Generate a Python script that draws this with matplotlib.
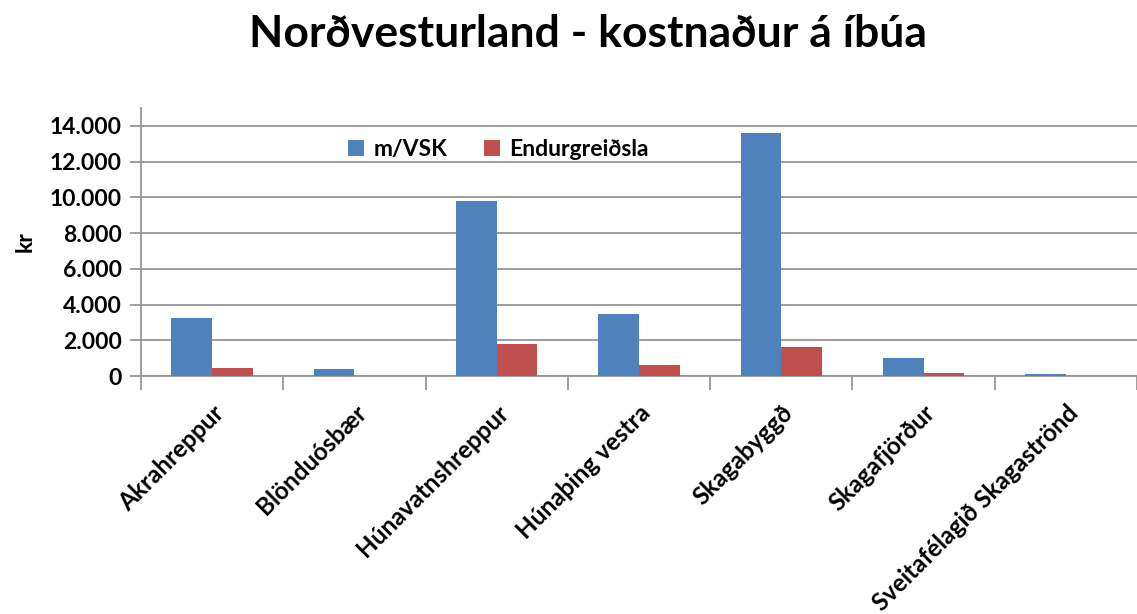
import numpy as np
import matplotlib
matplotlib.use('Agg')
import matplotlib.pyplot as plt
from matplotlib.ticker import FuncFormatter, FixedLocator

plt.rcParams['font.family'] = ['Lato', 'DejaVu Sans']

# data
sveitarfelog = ['Akrahreppur', 'Blönduósbær', 'Húnavatnshreppur', 'Húnaþing vestra',
                'Skagabyggð', 'Skagafjörður', 'Sveitafélagið Skagaströnd']
m_vsk = [3250, 390, 9790, 3470, 13590, 1025, 110]
endurgreidsla = [470, 0, 1810, 615, 1620, 170, 0]

blue = '#4F81BD'
red = '#C0504D'
grey = '#969696'

fig = plt.figure(figsize=(11.37, 6.14), dpi=100)
ax = fig.add_axes([0.124, 0.3876, 0.876, 0.4364])

x = np.arange(len(sveitarfelog))
w = 1 / 3.5
ax.bar(x - w / 2, m_vsk, w, color=blue, label='m/VSK', zorder=3)
ax.bar(x + w / 2, endurgreidsla, w, color=red, label='Endurgreiðsla', zorder=3)

ax.set_xlim(-0.5, len(sveitarfelog) - 0.5)
ax.set_ylim(0, 15000)
ax.set_yticks(np.arange(0, 14001, 2000))
ax.yaxis.set_major_formatter(FuncFormatter(lambda v, p: '{:,.0f}'.format(v).replace(',', '.')))
ax.grid(axis='y', color=grey, linewidth=1.3, zorder=0)

ax.set_xticks(x)
ax.set_xticklabels(sveitarfelog, rotation=45, ha='right', rotation_mode='anchor',
                   fontsize=17.5, fontweight='bold')
ax.xaxis.set_minor_locator(FixedLocator(np.arange(-0.5, len(sveitarfelog), 1.0)))
ax.tick_params(axis='x', which='major', length=0, pad=18)
ax.tick_params(axis='x', which='minor', length=10, color=grey, width=1.3)
ax.tick_params(axis='y', length=8, color=grey, width=1.3, labelsize=16.5, pad=6)
for lab in ax.get_yticklabels():
    lab.set_fontweight('bold')

for s in ['top', 'right']:
    ax.spines[s].set_visible(False)
for s in ['left', 'bottom']:
    ax.spines[s].set_color(grey)
    ax.spines[s].set_linewidth(1.3)

ax.set_ylabel('kr', fontsize=16.5, fontweight='bold', labelpad=10)

fig.text(0.517, 0.945, 'Norðvesturland - kostnaður á íbúa', ha='center', va='center',
         fontsize=32, fontweight='bold')

fig.legend(loc='upper left', bbox_to_anchor=(0.288, 0.807), ncol=2, frameon=False,
           handlelength=0.7, handleheight=0.7, handletextpad=0.4, columnspacing=1.6,
           prop={'size': 16.5, 'weight': 'bold'})

fig.savefig('out.png', dpi=100)
